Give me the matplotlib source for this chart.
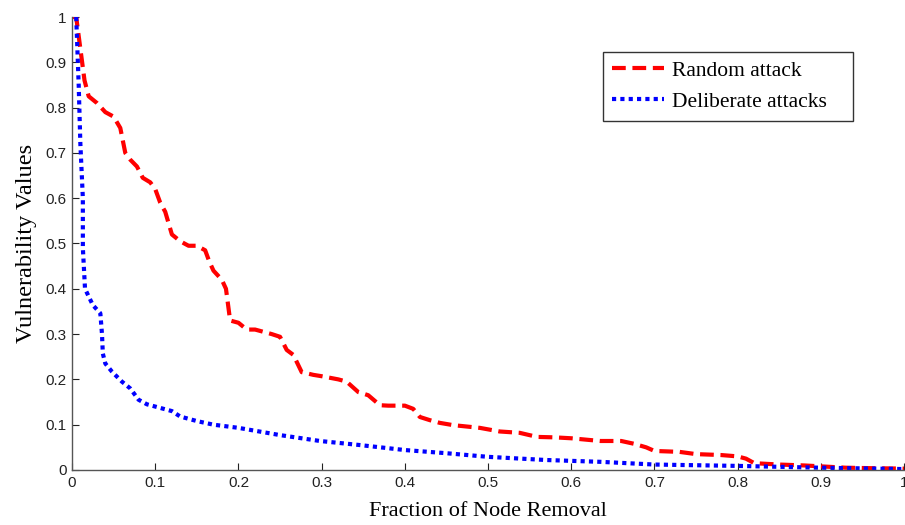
import matplotlib
matplotlib.use("Agg")
import matplotlib.pyplot as plt

rand_x = [0.0, 0.005, 0.01, 0.015, 0.02, 0.03, 0.04, 0.05, 0.058, 0.064, 0.07, 0.078, 0.085, 0.094, 0.10, 0.106,
          0.112, 0.12, 0.13, 0.14, 0.15, 0.16, 0.165, 0.17, 0.18, 0.185, 0.19, 0.20, 0.21, 0.22, 0.24,
          0.25, 0.258, 0.266, 0.276, 0.29, 0.30, 0.32, 0.33, 0.344, 0.356, 0.37, 0.38, 0.40, 0.41,
          0.418, 0.43, 0.442, 0.458, 0.49, 0.514, 0.538, 0.559, 0.58, 0.60, 0.635, 0.66, 0.675, 0.69,
          0.70, 0.73, 0.75, 0.78, 0.80, 0.81, 0.82, 0.85, 0.88, 0.90, 0.93, 0.96, 1.0]
rand_y = [1.0, 1.0, 0.93, 0.86, 0.825, 0.81, 0.79, 0.78, 0.755, 0.70, 0.685, 0.67, 0.645, 0.635, 0.62, 0.59,
          0.57, 0.52, 0.505, 0.495, 0.495, 0.485, 0.46, 0.44, 0.42, 0.40, 0.33, 0.325, 0.31, 0.31, 0.30,
          0.294, 0.265, 0.254, 0.216, 0.21, 0.207, 0.20, 0.195, 0.172, 0.165, 0.143, 0.142, 0.142, 0.135,
          0.117, 0.11, 0.104, 0.099, 0.093, 0.085, 0.082, 0.073, 0.072, 0.07, 0.064, 0.064, 0.058, 0.05,
          0.042, 0.04, 0.035, 0.033, 0.03, 0.025, 0.015, 0.012, 0.01, 0.008, 0.005, 0.004, 0.003]

delib_x = [0.005, 0.008, 0.01, 0.013, 0.013, 0.0156, 0.025, 0.034, 0.036, 0.037, 0.04, 0.048, 0.06, 0.07,
           0.08, 0.09, 0.10, 0.12, 0.13, 0.15, 0.17, 0.20, 0.25, 0.298, 0.346, 0.40, 0.45, 0.50, 0.57,
           0.635, 0.70, 0.80, 0.90, 1.0]
delib_y = [1.0, 0.85, 0.72, 0.6, 0.49, 0.40, 0.364, 0.346, 0.30, 0.257, 0.235, 0.217, 0.195, 0.18,
           0.155, 0.145, 0.14, 0.13, 0.118, 0.108, 0.10, 0.093, 0.077, 0.064, 0.055, 0.044, 0.037, 0.029, 0.022,
           0.018, 0.012, 0.009, 0.005, 0.002]

xticks = [0, 0.1, 0.2, 0.3, 0.4, 0.5, 0.6, 0.7, 0.8, 0.9, 1]
yticks = [0, 0.1, 0.2, 0.3, 0.4, 0.5, 0.6, 0.7, 0.8, 0.9, 1]
tick_labels = ["0", "0.1", "0.2", "0.3", "0.4", "0.5", "0.6", "0.7", "0.8", "0.9", "1"]

fig = plt.figure(figsize=(9.05, 5.25), dpi=100)
ax = fig.add_axes([0.0796, 0.1048, 0.9194, 0.8628])

ax.plot(rand_x, rand_y, color="#ff0000", lw=3, dashes=(3.3, 1.6), dash_capstyle="butt",
        label="Random attack")
ax.plot(delib_x, delib_y, color="#0000ff", lw=3, dashes=(1, 1), dash_capstyle="butt",
        label="Deliberate attacks")

ax.set_xlim(0, 1)
ax.set_ylim(0, 1)
ax.set_xticks(xticks)
ax.set_yticks(yticks)
ax.set_xticklabels(tick_labels, family="Liberation Sans", fontsize=11)
ax.set_yticklabels(tick_labels, family="Liberation Sans", fontsize=11)
ax.tick_params(direction="in", length=5, width=0.8, colors="#222222", pad=4)
for s in ["top", "right"]:
    ax.spines[s].set_visible(False)
for s in ["left", "bottom"]:
    ax.spines[s].set_color("#555555")
    ax.spines[s].set_linewidth(1.0)

ax.set_xlabel("Fraction of Node Removal", family="Liberation Serif", fontsize=16, labelpad=9)
ax.set_ylabel("Vulnerability Values", family="Liberation Serif", fontsize=17.5, labelpad=6)

leg = ax.legend(loc="upper left", bbox_to_anchor=(0.638, 0.773, 0.3005, 0.15), mode="expand",
                prop={"family": "Liberation Serif", "size": 15.5},
                frameon=True, fancybox=False, edgecolor="black", handlelength=2.42,
                borderpad=0.42, labelspacing=0.5, handletextpad=0.37, borderaxespad=0)
leg.get_frame().set_linewidth(1.0)

fig.savefig("out.png", dpi=100)
